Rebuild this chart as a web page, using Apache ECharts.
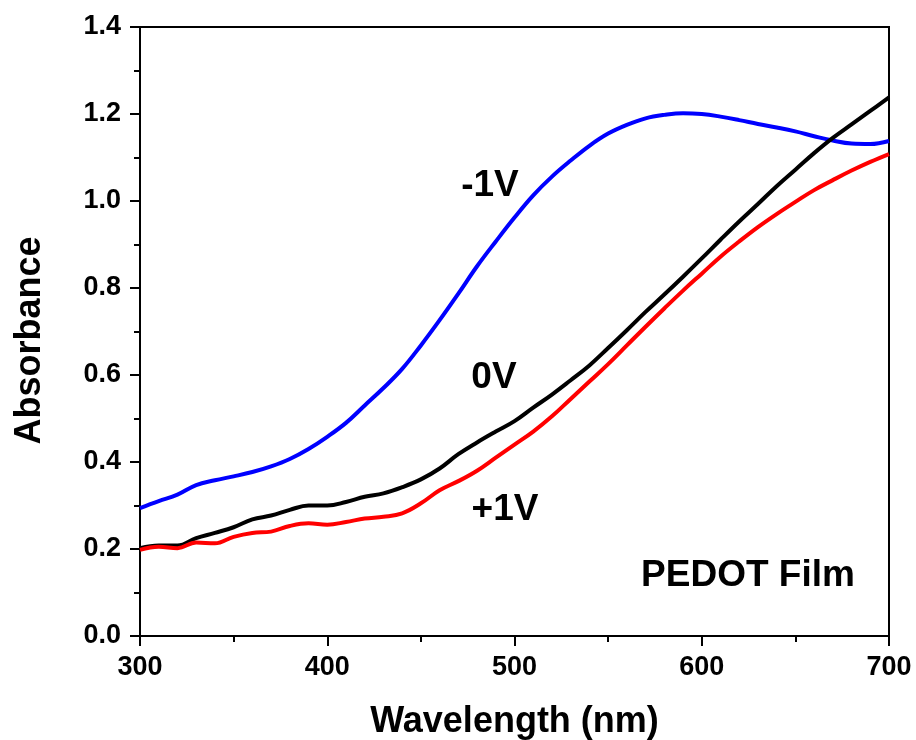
<!DOCTYPE html>
<html>
<head>
<meta charset="utf-8">
<title>PEDOT Film absorbance</title>
<script src="https://cdn.jsdelivr.net/npm/echarts@6/dist/echarts.min.js"></script>
<style>
  html, body { margin: 0; padding: 0; background: #fff; }
  #chart { width: 916px; height: 740px; }
</style>
</head>
<body>
<div id="chart"></div>
<script>
// wavelength (nm), 300..700 every 10 nm
const wavelength = [300, 310, 320, 330, 340, 350, 360, 370, 380, 390,
  400, 410, 420, 430, 440, 450, 460, 470, 480, 490,
  500, 510, 520, 530, 540, 550, 560, 570, 580, 590,
  600, 610, 620, 630, 640, 650, 660, 670, 680, 690, 700];

// -1V (blue)
const absMinus1V = [0.294, 0.31, 0.325, 0.347, 0.358, 0.367, 0.377, 0.39, 0.407, 0.43,
  0.458, 0.49, 0.53, 0.57, 0.614, 0.668, 0.726, 0.787, 0.85, 0.907,
  0.962, 1.013, 1.056, 1.093, 1.127, 1.155, 1.175, 1.19, 1.198, 1.202,
  1.2, 1.194, 1.186, 1.177, 1.169, 1.16, 1.149, 1.139, 1.132, 1.131, 1.138];

// 0V (black)
const abs0V = [0.202, 0.208, 0.208, 0.225, 0.237, 0.25, 0.268, 0.277, 0.29, 0.3,
  0.3, 0.308, 0.32, 0.328, 0.342, 0.36, 0.385, 0.418, 0.445, 0.47,
  0.494, 0.525, 0.555, 0.588, 0.622, 0.662, 0.703, 0.745, 0.785, 0.826,
  0.868, 0.911, 0.953, 0.993, 1.034, 1.072, 1.11, 1.145, 1.176, 1.207, 1.238];

// +1V (red)
const absPlus1V = [0.198, 0.205, 0.202, 0.215, 0.213, 0.228, 0.237, 0.24, 0.253, 0.259,
  0.256, 0.262, 0.27, 0.274, 0.282, 0.305, 0.335, 0.356, 0.38, 0.41,
  0.44, 0.47, 0.505, 0.545, 0.585, 0.625, 0.668, 0.711, 0.753, 0.794,
  0.833, 0.872, 0.907, 0.94, 0.97, 0.998, 1.025, 1.048, 1.07, 1.09, 1.108];

const FONT = '"Liberation Sans", Arial, sans-serif';

function pairs(ys) {
  return wavelength.map((x, i) => [x, ys[i]]);
}

const chart = echarts.init(document.getElementById('chart'));

const axisCommon = {
  axisLine: { show: true, lineStyle: { color: '#000', width: 2 } },
  axisTick: { show: true, length: 10, lineStyle: { color: '#000', width: 2 } },
  minorTick: { show: true, splitNumber: 2, length: 6, lineStyle: { color: '#000', width: 2 } },
  splitLine: { show: false }
};

const tickFont = { fontFamily: FONT, fontWeight: 'bold', fontSize: 27, color: '#000' };
const titleFont = { fontFamily: FONT, fontWeight: 'bold', fontSize: 36, color: '#000' };

const option = {
  animation: false,
  backgroundColor: '#fff',
  grid: {
    left: 140, right: 27, top: 27, bottom: 104,
    outerBoundsMode: 'none',
    show: true, borderColor: '#000', borderWidth: 2
  },
  xAxis: Object.assign({}, axisCommon, {
    type: 'value',
    min: 300, max: 700, interval: 100,
    name: 'Wavelength (nm)',
    nameLocation: 'middle',
    nameGap: 68,
    nameTextStyle: titleFont,
    axisLabel: Object.assign({ margin: 18 }, tickFont)
  }),
  yAxis: Object.assign({}, axisCommon, {
    type: 'value',
    min: 0, max: 1.4, interval: 0.2,
    name: 'Absorbance',
    nameLocation: 'middle',
    nameGap: 92,
    // extra room at the end of the rotated title pushes it down a little
    nameTextStyle: Object.assign({ padding: [0, 18, 0, 0] }, titleFont),
    axisLabel: Object.assign({ margin: 19, formatter: v => v.toFixed(1) }, tickFont)
  }),
  series: [
    { name: '-1V', type: 'line', data: pairs(absMinus1V), color: '#0000ff' },
    { name: '0V', type: 'line', data: pairs(abs0V), color: '#000000' },
    { name: '+1V', type: 'line', data: pairs(absPlus1V), color: '#ff0000' }
  ].map(s => Object.assign(s, {
    showSymbol: false,
    smooth: 0.4,
    lineStyle: { width: 4, color: s.color }
  })),
  graphic: [
    { text: '-1V', x: 490, y: 186 },
    { text: '0V', x: 494, y: 378 },
    { text: '+1V', x: 505, y: 510 },
    { text: 'PEDOT Film', x: 748, y: 576 }
  ].map(t => ({
    type: 'text',
    x: t.x, y: t.y,
    style: {
      text: t.text,
      fontFamily: FONT, fontWeight: 'bold', fontSize: 37, fill: '#000',
      textAlign: 'center', textVerticalAlign: 'middle'
    }
  }))
};

chart.setOption(option);
</script>
</body>
</html>
